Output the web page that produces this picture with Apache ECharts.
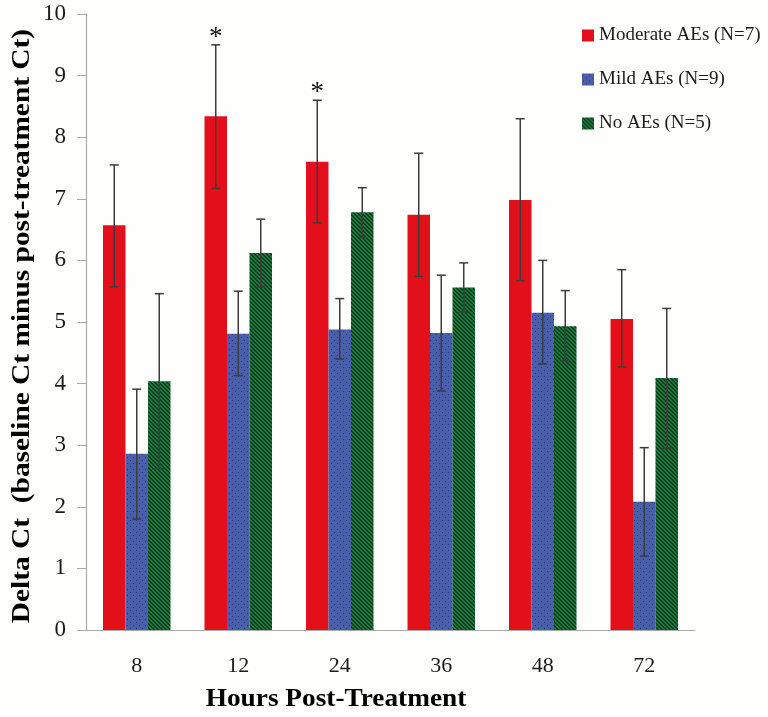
<!DOCTYPE html>
<html>
<head>
<meta charset="utf-8">
<script src="https://cdn.jsdelivr.net/npm/echarts@6/dist/echarts.min.js"></script>
<style>
html,body{margin:0;padding:0;background:#fefefc;}
#chart{width:768px;height:717px;}
</style>
</head>
<body>
<div id="chart"></div>
<script>
// ---- data ----
var categories = ['8', '12', '24', '36', '48', '72'];
var seriesNames = ['Moderate AEs (N=7)', 'Mild AEs (N=9)', 'No AEs (N=5)'];
var moderateMean = [6.57, 8.34, 7.60, 6.74, 6.98, 5.05];
var moderateLow  = [5.57, 7.17, 6.61, 5.74, 5.67, 4.27];
var moderateHigh = [7.55, 9.50, 8.60, 7.74, 8.30, 5.85];
var mildMean = [2.86, 4.81, 4.88, 4.82, 5.15, 2.08];
var mildLow  = [1.80, 4.13, 4.40, 3.88, 4.32, 1.20];
var mildHigh = [3.91, 5.50, 5.38, 5.76, 6.00, 2.96];
var noneMean = [4.04, 6.12, 6.78, 5.56, 4.93, 4.09];
var noneLow  = [2.62, 5.57, 6.37, 5.16, 4.37, 2.95];
var noneHigh = [5.46, 6.67, 7.18, 5.96, 5.51, 5.22];
var moderateSig = ['', '*', '*', '', '', ''];
var yTicks = [0, 10, 1];
var xTitle = 'Hours Post-Treatment';
var yTitle = 'Delta Ct  (baseline Ct minus post-treatment Ct)';

// ---- patterns ----
function dotPattern() {
  var c = document.createElement('canvas');
  c.width = 6; c.height = 6;
  var g = c.getContext('2d');
  g.fillStyle = '#4a5fab';
  g.fillRect(0, 0, 6, 6);
  g.fillStyle = '#26366e';
  g.fillRect(1, 1, 1, 1);
  g.fillRect(4, 4, 1, 1);
  return c;
}
function hatchPattern() {
  var c = document.createElement('canvas');
  c.width = 4; c.height = 4;
  var g = c.getContext('2d');
  g.fillStyle = '#1c7a3e';
  g.fillRect(0, 0, 4, 4);
  g.fillStyle = '#0b3f1d';
  for (var i = 0; i < 4; i++) {
    g.fillRect(i, i, 1, 1);
    g.fillRect((i + 1) % 4, i, 1, 1);
  }
  return c;
}
var fills = [
  '#e3101b',
  { image: dotPattern(), repeat: 'repeat' },
  { image: hatchPattern(), repeat: 'repeat' }
];

var BAR_W = 22.5;
var means = [moderateMean, mildMean, noneMean];
var lows = [moderateLow, mildLow, noneLow];
var highs = [moderateHigh, mildHigh, noneHigh];
var sigs = [moderateSig, null, null];
var serif = '"Liberation Serif", "DejaVu Serif", serif';

var series = [];
for (var s = 0; s < 3; s++) {
  series.push({
    name: seriesNames[s],
    type: 'bar',
    data: means[s],
    barWidth: BAR_W,
    barGap: '0%',
    itemStyle: { color: fills[s] },
    z: 2
  });
}
for (var s2 = 0; s2 < 3; s2++) {
  (function (si) {
    var d = categories.map(function (c, i) {
      return [i, lows[si][i], highs[si][i]];
    });
    series.push({
      type: 'custom',
      name: 'err' + si,
      data: d,
      z: 10,
      silent: true,
      renderItem: function (params, api) {
        var idx = api.value(0);
        var xc = api.coord([idx, 0])[0] + (si - 1) * BAR_W;
        var lo = api.coord([idx, api.value(1)])[1];
        var hi = api.coord([idx, api.value(2)])[1];
        var cap = 4.5;
        var st = { stroke: '#3c3c3c', lineWidth: 1.5 };
        var children = [
          { type: 'line', shape: { x1: xc, y1: lo, x2: xc, y2: hi }, style: st },
          { type: 'line', shape: { x1: xc - cap, y1: hi, x2: xc + cap, y2: hi }, style: st },
          { type: 'line', shape: { x1: xc - cap, y1: lo, x2: xc + cap, y2: lo }, style: st }
        ];
        if (sigs[si] && sigs[si][idx]) {
          children.push({
            type: 'text',
            x: xc, y: hi - 7,
            style: {
              text: sigs[si][idx],
              textAlign: 'center', textVerticalAlign: 'middle',
              font: '27px ' + serif, fill: '#111'
            }
          });
        }
        return { type: 'group', children: children };
      }
    });
  })(s2);
}

var chart = echarts.init(document.getElementById('chart'));
chart.setOption({
  backgroundColor: '#fefefc',
  animation: false,
  grid: { left: 86, right: 73, top: 14, bottom: 87 },
  legend: {
    data: seriesNames,
    orient: 'vertical',
    left: 577,
    top: 21,
    itemWidth: 12,
    itemHeight: 12,
    itemGap: 25,
    icon: 'rect',
    textStyle: { fontFamily: serif, fontSize: 19, color: '#1a1a1a' }
  },
  xAxis: {
    type: 'category',
    data: categories,
    axisLine: { lineStyle: { color: '#aaaaaa', width: 1.2 } },
    axisTick: { alignWithLabel: false, length: 8, lineStyle: { color: '#aaaaaa' } },
    axisLabel: { fontFamily: serif, fontSize: 22, color: '#1a1a1a', margin: 25 }
  },
  yAxis: {
    type: 'value',
    min: yTicks[0],
    max: yTicks[1],
    interval: yTicks[2],
    splitLine: { show: false },
    axisLine: { show: true, lineStyle: { color: '#aaaaaa', width: 1.2 } },
    axisTick: { show: true, length: 9, lineStyle: { color: '#aaaaaa' } },
    axisLabel: { fontFamily: serif, fontSize: 23, color: '#1a1a1a', margin: 20 }
  },
  graphic: [
    {
      type: 'text', x: 336, y: 699, scaleX: 1.05,
      style: {
        text: xTitle, textAlign: 'center', textVerticalAlign: 'middle',
        font: 'bold 26px ' + serif, fill: '#000'
      }
    },
    {
      type: 'text', x: 22, y: 326, rotation: Math.PI / 2, scaleX: 1.13,
      style: {
        text: yTitle, textAlign: 'center', textVerticalAlign: 'middle',
        font: 'bold 26px ' + serif, fill: '#000'
      }
    }
  ],
  series: series
});
</script>
</body>
</html>
